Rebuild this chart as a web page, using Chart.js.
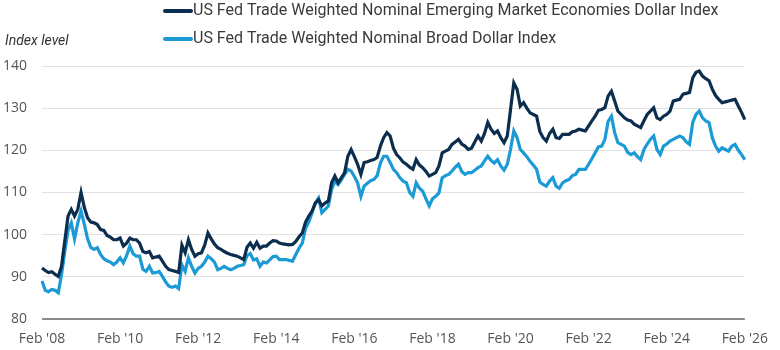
<!DOCTYPE html>
<html>
<head>
<meta charset="utf-8">
<script src="https://cdn.jsdelivr.net/npm/chart.js@4.4.1/dist/chart.umd.min.js"></script>
<style>
  html, body { margin: 0; padding: 0; background: #ffffff; }
  #wrap { position: relative; width: 780px; height: 350px; }
</style>
</head>
<body>
<div id="wrap"><canvas id="c" width="780" height="350"></canvas></div>
<script>
// Monthly observations, Feb 2008 .. Feb 2026
const startYear = 2008;
const startMonth = 1; // February (0-based)
const monthCount = 217;

const seriesNames = [
  "US Fed Trade Weighted Nominal Emerging Market Economies Dollar Index",
  "US Fed Trade Weighted Nominal Broad Dollar Index"
];

const emergingIndex = [
  92.1, 91.5, 91.0, 91.2, 90.6, 90.1, 92.5, 98.5, 104.4, 106.0, 104.4, 106.0,
  110.0, 106.5, 104.0, 103.0, 102.8, 102.4, 101.2, 101.0, 99.8, 99.4, 98.8, 98.8,
  99.2, 97.3, 98.0, 99.2, 98.8, 98.8, 98.0, 96.0, 95.7, 96.0, 94.5, 94.7,
  94.9, 93.7, 92.5, 91.7, 91.5, 91.3, 91.0, 97.5, 95.7, 98.8, 96.5, 94.9,
  95.5, 95.7, 97.5, 100.4, 99.0, 97.8, 96.9, 96.5, 96.0, 95.6, 95.3, 95.1,
  94.9, 94.5, 94.1, 97.0, 98.0, 96.8, 98.2, 96.8, 97.3, 97.3, 98.0, 98.6,
  98.5, 98.0, 97.8, 97.7, 97.6, 97.7, 98.4, 99.5, 100.4, 103.0, 104.4, 105.6,
  107.5, 108.3, 106.8, 107.5, 108.0, 112.3, 113.9, 112.3, 113.5, 114.7, 118.6, 120.2,
  118.5, 116.7, 114.3, 117.1, 117.3, 117.6, 117.8, 118.3, 121.0, 123.0, 124.2, 123.4,
  120.5, 119.0, 118.2, 117.2, 116.7, 116.0, 115.5, 117.8, 116.5, 115.9, 115.0, 113.9,
  114.3, 114.7, 116.3, 119.4, 119.8, 120.2, 121.4, 122.0, 122.6, 121.5, 121.0, 120.2,
  120.5, 122.0, 123.4, 122.2, 124.0, 126.6, 125.0, 124.0, 124.6, 123.0, 121.8, 123.4,
  129.7, 136.0, 134.5, 130.5, 131.3, 130.0, 128.9, 128.5, 128.1, 124.5, 123.0, 122.2,
  124.0, 125.0, 123.0, 122.8, 123.8, 123.8, 123.8, 124.4, 124.6, 125.0, 124.8, 124.6,
  125.8, 127.0, 128.1, 129.5, 129.7, 130.1, 132.9, 134.0, 131.7, 129.3, 128.5, 127.7,
  127.2, 127.0, 126.2, 125.8, 125.4, 127.0, 128.5, 129.3, 130.1, 127.7, 127.3, 128.1,
  128.5, 129.3, 131.7, 131.9, 132.1, 133.3, 133.5, 133.7, 137.2, 138.5, 138.8, 137.6,
  137.0, 136.5, 134.5, 133.0, 132.1, 131.3, 131.5, 131.7, 131.9, 132.1, 130.5, 129.0,
  127.3
];

const broadIndex = [
  89.0, 86.8, 86.5, 87.0, 86.8, 86.2, 90.5, 96.0, 101.0, 102.8, 99.0, 102.8,
  105.6, 102.5, 99.0, 97.0, 96.5, 96.9, 95.3, 94.3, 93.8, 93.5, 92.9, 93.5,
  94.5, 93.3, 95.0, 97.3, 95.5, 94.9, 94.9, 91.8, 91.3, 92.5, 90.9, 91.0,
  91.3, 90.1, 88.8, 87.8, 87.5, 87.8, 87.2, 92.8, 91.3, 94.5, 92.5, 90.9,
  92.0, 92.5, 93.5, 94.9, 94.3, 93.5, 91.7, 92.0, 92.5, 92.0, 91.7, 92.0,
  92.5, 92.7, 92.9, 95.0, 95.5, 94.0, 94.3, 92.5, 93.5, 93.3, 94.0, 94.8,
  94.9, 94.1, 94.1, 94.1, 93.9, 93.7, 95.3, 96.8, 98.0, 101.5, 103.0, 105.2,
  107.5, 108.7, 105.2, 106.0, 106.8, 110.7, 112.7, 111.9, 113.0, 114.3, 115.5, 115.1,
  113.8, 112.3, 109.1, 111.5, 112.2, 112.8, 113.1, 114.0, 117.0, 118.6, 118.6, 117.1,
  115.5, 114.7, 113.5, 112.7, 112.3, 110.0, 109.1, 112.3, 111.0, 110.3, 108.5, 106.8,
  108.5, 109.1, 109.9, 113.5, 114.0, 114.3, 115.1, 116.0, 116.7, 115.0, 114.3, 114.7,
  114.7, 115.3, 115.9, 116.3, 117.5, 118.6, 117.6, 117.0, 117.8, 116.3, 115.3, 116.7,
  120.2, 124.6, 123.0, 120.2, 119.4, 118.5, 117.4, 116.5, 115.5, 112.5, 111.9, 111.5,
  112.7, 113.5, 111.5, 111.0, 112.3, 112.8, 113.1, 114.0, 114.3, 115.5, 115.5, 115.5,
  116.7, 118.0, 119.4, 120.8, 121.0, 122.6, 126.9, 128.1, 124.2, 121.8, 121.4, 121.0,
  119.5, 119.0, 119.4, 118.5, 117.8, 120.2, 121.5, 122.6, 123.4, 120.2, 119.0, 121.0,
  121.5, 122.2, 122.6, 123.0, 123.4, 123.0, 122.0, 121.4, 126.6, 128.5, 129.3, 127.7,
  127.0, 126.6, 123.0, 121.0, 119.8, 120.6, 120.2, 119.8, 121.0, 121.4, 120.0, 119.0,
  117.8
];

const yTicks = [80, 90, 100, 110, 120, 130, 140];
const monthNames = ["Jan","Feb","Mar","Apr","May","Jun","Jul","Aug","Sep","Oct","Nov","Dec"];
const yAxisTitle = "Index level";

const colorEM = "#0b2d4e";
const colorBroad = "#1b9ad6";

// Build category labels
const labels = [];
for (let i = 0; i < monthCount; i++) {
  const mAbs = startMonth + i;
  const y = startYear + Math.floor(mAbs / 12);
  const mo = mAbs % 12;
  labels.push(monthNames[mo] + " '" + String(y).slice(2));
}

const legendPlugin = {
  id: 'customLegend',
  afterDraw(chart) {
    const ctx = chart.ctx;
    ctx.save();
    const items = [
      { text: seriesNames[0], color: colorEM, y: 11 },
      { text: seriesNames[1], color: colorBroad, y: 39 }
    ];
    ctx.font = "16px Roboto, 'Noto Sans', sans-serif";
    ctx.textBaseline = 'middle';
    ctx.textAlign = 'left';
    items.forEach(it => {
      ctx.strokeStyle = it.color;
      ctx.lineWidth = 4;
      ctx.lineCap = 'round';
      ctx.beginPath();
      ctx.moveTo(165, it.y);
      ctx.lineTo(191, it.y);
      ctx.stroke();
      ctx.fillStyle = '#3a3a3a';
      ctx.fillText(it.text, 193, it.y);
    });
    ctx.font = "italic 14px Roboto, 'Noto Sans', sans-serif";
    ctx.fillStyle = '#333333';
    ctx.fillText(yAxisTitle, 5, 41);
    ctx.restore();
  }
};

new Chart(document.getElementById('c'), {
  type: 'line',
  data: {
    labels: labels,
    datasets: [
      {
        label: seriesNames[0],
        data: emergingIndex,
        borderColor: colorEM,
        backgroundColor: colorEM,
        borderWidth: 3.2,
        pointRadius: 0,
        tension: 0
      },
      {
        label: seriesNames[1],
        data: broadIndex,
        borderColor: colorBroad,
        backgroundColor: colorBroad,
        borderWidth: 3.2,
        pointRadius: 0,
        tension: 0
      }
    ]
  },
  options: {
    responsive: false,
    animation: false,
    layout: { padding: { left: 0, right: 28, top: 66, bottom: 0 } },
    plugins: {
      legend: { display: false },
      tooltip: { enabled: false }
    },
    scales: {
      x: {
        type: 'category',
        offset: false,
        grid: { display: false, drawTicks: false },
        border: { display: false },
        ticks: {
          autoSkip: false,
          maxRotation: 0,
          minRotation: 0,
          padding: 12,
          color: '#555555',
          font: { family: "'Open Sans', sans-serif", size: 14 },
          callback: function(value, index) {
            const mAbs = startMonth + index;
            const y = startYear + Math.floor(mAbs / 12);
            if (mAbs % 12 === 1 && (y - startYear) % 2 === 0) return labels[index];
            return null;
          }
        },
        afterFit(scale) { scale.height = 31; }
      },
      y: {
        min: 80,
        max: 140,
        afterBuildTicks(scale) { scale.ticks = yTicks.map(v => ({ value: v })); },
        grid: {
          drawTicks: false,
          color: ctx => (ctx.tick && ctx.tick.value === 80) ? '#8a8a8a' : '#e2e2e2',
          lineWidth: ctx => (ctx.tick && ctx.tick.value === 80) ? 2 : 1
        },
        border: { display: false },
        ticks: {
          padding: 15,
          color: '#555555',
          font: { family: "'Open Sans', sans-serif", size: 14 }
        },
        afterFit(scale) { scale.width = 42; }
      }
    }
  },
  plugins: [legendPlugin]
});
</script>
</body>
</html>
